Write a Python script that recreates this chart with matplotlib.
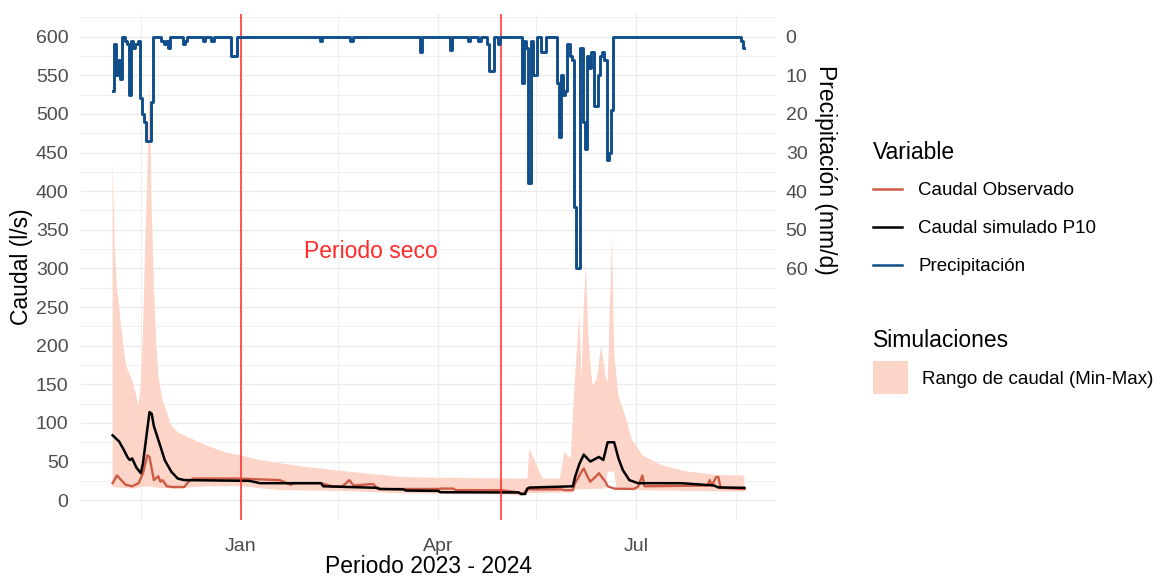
import numpy as np
import pandas as pd
import matplotlib
matplotlib.use("Agg")
import matplotlib.pyplot as plt
import matplotlib.dates as mdates
from matplotlib.lines import Line2D
from matplotlib.patches import Patch

plt.rcParams['font.family'] = ['Liberation Sans', 'DejaVu Sans']

# daily precipitation (mm/d), 2023-11-03 .. 2024-08-20
pp_nov = [14, 2, 10, 6, 11, 0, 1, 2, 15, 1, 3, 2, 1, 16, 20, 22, 27, 27, 17, 0,
          0, 0, 0, 1, 2, 1, 3, 0]
pp_dec = [0, 0, 0, 0, 0, 2, 1, 0, 0, 0, 0, 0, 0, 0, 1, 0, 0, 0, 1, 0, 0, 0, 0, 0,
          0, 0, 0, 5, 5, 5, 0]
pp_jan = [0] * 31
pp_feb = [0, 0, 0, 0, 0, 0, 1, 0, 0, 0, 0, 0, 0, 0, 0, 0, 0, 0, 0, 0, 1, 0, 0, 0,
          0, 0, 0, 0, 0]
pp_mar = [0, 0, 0, 0, 0, 0, 0, 0, 0, 0, 0, 0, 0, 0, 0, 0, 0, 0, 0, 0, 0, 0, 0, 4,
          0, 0, 0, 0, 0, 0, 0]
pp_apr = [0, 0, 0, 0, 0, 0, 3.5, 0, 0, 0, 0, 0, 0, 0, 1, 0, 0, 0, 0, 1, 0, 0, 0, 2,
          9, 9, 0, 0, 2, 0]
pp_may = [0, 0, 0, 0, 0, 0, 0, 0, 0, 12, 1, 3, 38, 1, 10, 10, 0, 0, 4, 4, 0, 0, 0, 0,
          0, 12, 26, 10, 15, 14, 2]
pp_jun = [5, 6, 44, 60, 60, 3, 22, 29, 5, 8, 4, 18, 18, 10, 5, 4, 6, 32, 30, 19,
          0, 0, 0, 0, 0, 0, 0, 0, 0, 0]
pp_jul = [0] * 31
pp_aug = [0, 0, 0, 0, 0, 0, 0, 0, 0, 0, 0, 0, 0, 0, 0, 0, 0, 0, 1, 3]

# observed flow (l/s)
obs_dates = ["2023-11-03", "2023-11-05", "2023-11-07", "2023-11-09", "2023-11-12",
             "2023-11-15", "2023-11-17", "2023-11-19", "2023-11-20", "2023-11-21",
             "2023-11-22", "2023-11-24", "2023-11-25", "2023-11-26", "2023-11-28",
             "2023-12-01", "2023-12-06", "2023-12-08", "2023-12-10", "2023-12-31",
             "2024-01-19", "2024-01-24", "2024-01-26", "2024-02-07", "2024-02-12",
             "2024-02-17", "2024-02-20", "2024-02-22", "2024-03-02", "2024-03-04",
             "2024-04-01", "2024-04-02", "2024-04-08", "2024-04-09", "2024-04-30",
             "2024-05-08", "2024-05-10", "2024-05-12", "2024-05-28", "2024-05-29",
             "2024-06-02", "2024-06-03", "2024-06-06", "2024-06-07", "2024-06-09",
             "2024-06-10", "2024-06-12", "2024-06-14", "2024-06-15", "2024-06-17",
             "2024-06-18", "2024-06-21", "2024-06-30", "2024-07-02", "2024-07-04",
             "2024-07-05", "2024-08-03", "2024-08-04", "2024-08-05", "2024-08-07",
             "2024-08-08", "2024-08-09", "2024-08-20"]
obs_vals = [22, 32, 26, 20, 18, 22, 35, 58, 56, 41, 26, 31, 24, 26, 18, 17, 17, 24,
            28, 28, 26, 20, 22, 22, 18, 18, 26, 19, 21, 14.5, 14.5, 15, 15, 13, 13,
            10, 8, 14, 14, 13, 13, 22, 37, 41, 29, 24, 29, 35, 31, 24, 18, 15, 14.5,
            17.5, 32, 18, 19, 26, 19, 30, 30, 16, 14.5]

# simulated flow P10 (l/s)
sim_dates = ["2023-11-03", "2023-11-06", "2023-11-08", "2023-11-10", "2023-11-11",
             "2023-11-12", "2023-11-14", "2023-11-16", "2023-11-17", "2023-11-19",
             "2023-11-20", "2023-11-21", "2023-11-22", "2023-11-25", "2023-11-27",
             "2023-11-30", "2023-12-03", "2023-12-06", "2024-01-05", "2024-01-10",
             "2024-02-07", "2024-02-08", "2024-03-04", "2024-03-05", "2024-03-16",
             "2024-03-17", "2024-04-01", "2024-04-02", "2024-05-08", "2024-05-09",
             "2024-05-11", "2024-05-12", "2024-05-13", "2024-06-02", "2024-06-03",
             "2024-06-05", "2024-06-07", "2024-06-10", "2024-06-14", "2024-06-16",
             "2024-06-18", "2024-06-21", "2024-06-23", "2024-06-25", "2024-06-28",
             "2024-07-02", "2024-07-22", "2024-08-06", "2024-08-08", "2024-08-20"]
sim_vals = [84, 76, 66, 55, 52, 54, 42, 35, 48, 92, 114, 112, 96, 70, 52, 37, 28,
            26, 25, 22, 22, 18, 16, 14.5, 14, 12.5, 12, 10.3, 10, 8, 8, 15, 16.3, 18,
            30, 47, 59, 50, 56, 52, 75, 75, 54, 39, 26, 22, 22, 19, 16.5, 16]

# simulation range (min-max, l/s)
max_dates = ["2023-11-03", "2023-11-04", "2023-11-05", "2023-11-06", "2023-11-07",
             "2023-11-08", "2023-11-09", "2023-11-10", "2023-11-11", "2023-11-12",
             "2023-11-13", "2023-11-14", "2023-11-15", "2023-11-16", "2023-11-17",
             "2023-11-18", "2023-11-19", "2023-11-20", "2023-11-21", "2023-11-22",
             "2023-11-23", "2023-11-24", "2023-11-25", "2023-11-26", "2023-11-27",
             "2023-11-30", "2023-12-03", "2023-12-09", "2023-12-16", "2023-12-25",
             "2024-01-01", "2024-01-10", "2024-01-19", "2024-01-28", "2024-02-07",
             "2024-02-16", "2024-03-01", "2024-03-15", "2024-04-01", "2024-05-12",
             "2024-05-13", "2024-05-15", "2024-05-19", "2024-05-27", "2024-05-29",
             "2024-06-01", "2024-06-03", "2024-06-04", "2024-06-05", "2024-06-06",
             "2024-06-07", "2024-06-08", "2024-06-09", "2024-06-10", "2024-06-11",
             "2024-06-13", "2024-06-15", "2024-06-17", "2024-06-18", "2024-06-20",
             "2024-06-21", "2024-06-23", "2024-06-26", "2024-06-29", "2024-07-04",
             "2024-07-13", "2024-07-25", "2024-08-08", "2024-08-20"]
max_vals = [437, 330, 275, 250, 225, 200, 178, 168, 162, 155, 145, 135, 122, 150,
            220, 330, 420, 545, 380, 280, 210, 165, 145, 130, 122, 97, 88, 80, 71, 62,
            58, 52, 48, 44, 41, 38, 34, 30, 29, 28, 67, 54, 28, 28, 62, 54, 161, 200,
            242, 157, 251, 307, 221, 180, 148, 157, 200, 161, 152, 341, 191, 135, 110,
            80, 58, 45, 37, 32.5, 32]
min_dates = ["2023-11-03", "2023-11-12", "2023-11-19", "2023-11-24", "2023-12-01",
             "2023-12-15", "2024-01-01", "2024-01-19", "2024-02-15", "2024-03-15",
             "2024-04-01", "2024-04-30", "2024-05-09", "2024-05-12", "2024-06-02",
             "2024-06-03", "2024-06-17", "2024-06-18", "2024-06-21", "2024-06-22",
             "2024-07-01", "2024-08-20"]
min_vals = [17, 15, 18, 16, 15, 18, 18, 13, 12, 9, 8.5, 7.5, 6, 9, 10, 14, 15, 37, 37,
            17, 13, 11]

dry_limits = ["2024-01-01", "2024-04-30"]

c_obs = '#CD5B45'
c_sim = 'black'
c_pp = '#104E8B'
c_fill = '#FCD5C8'
c_red = '#FF2A2A'

pp_days = pd.date_range("2023-11-03", "2024-08-20", freq="D")
precip = np.concatenate([pp_nov, pp_dec, pp_jan, pp_feb, pp_mar, pp_apr, pp_may,
                         pp_jun, pp_jul, pp_aug])

fig = plt.figure(figsize=(11.56, 5.8), dpi=100)
ax = fig.add_axes([81 / 1156, 60.5 / 580, 695 / 1156, 506 / 580])

xmx = mdates.date2num(pd.to_datetime(max_dates))
xmn = mdates.date2num(pd.to_datetime(min_dates))
ax.fill(np.concatenate([xmx, xmn[::-1]]),
        np.concatenate([max_vals, min_vals[::-1]]),
        color=c_fill, lw=0, zorder=2)
ax.plot(pd.to_datetime(obs_dates), obs_vals, color=c_obs, lw=1.7, zorder=3)
ax.plot(pd.to_datetime(sim_dates), sim_vals, color=c_sim, lw=1.8, zorder=4)
for d in dry_limits:
    ax.axvline(pd.Timestamp(d), color=c_red, lw=1.1, zorder=5)
ax.text(pd.Timestamp("2024-03-01"), 322, "Periodo seco", color=c_red,
        fontsize=16.5, ha='center', va='center', zorder=6)

t0 = mdates.date2num(pd.Timestamp("2023-11-03"))
t1 = mdates.date2num(pd.Timestamp("2024-08-20"))
pad = (t1 - t0) * 0.05
ax.set_xlim(t0 - pad, t1 + pad)
ax.set_ylim(-25, 630)

ax.xaxis.set_major_locator(mdates.MonthLocator(bymonth=[1, 4, 7]))
ax.xaxis.set_major_formatter(mdates.DateFormatter('%b'))
ax.xaxis.set_minor_locator(matplotlib.ticker.FixedLocator(
    mdates.date2num(pd.to_datetime(["2023-11-16", "2024-02-15", "2024-05-16",
                                    "2024-08-16"]))))
ax.set_yticks(np.arange(0, 601, 50))
ax.set_yticks(np.arange(25, 626, 50), minor=True)

ax.grid(True, which='major', color='#EBEBEB', lw=1.0, zorder=0)
ax.grid(True, which='minor', color='#EFEFEF', lw=0.7, zorder=0)
ax.set_axisbelow(True)
for s in ax.spines.values():
    s.set_visible(False)
ax.tick_params(which='both', length=0, labelsize=14, labelcolor='#4D4D4D')
ax.tick_params(axis='y', pad=9)
ax.tick_params(axis='x', pad=13)
ax.set_xlabel("Periodo 2023 - 2024", fontsize=16.5, labelpad=0)
ax.set_ylabel("Caudal (l/s)", fontsize=16.5, labelpad=2)

# precipitation on a reversed secondary axis: caudal = 600 - 5 * P
ax2 = ax.twinx()
ax2.set_ylim((600 + 25) / 5, (600 - 630) / 5)
ax2.plot(pp_days, precip, color=c_pp, lw=2.1, drawstyle='steps-mid', zorder=6)
ax2.set_yticks(np.arange(0, 61, 10))
for s in ax2.spines.values():
    s.set_visible(False)
ax2.tick_params(length=0, labelsize=14, labelcolor='#4D4D4D', pad=7)
ax2.set_ylabel("Precipitación (mm/d)", fontsize=16.5, rotation=-90, va='bottom')
ax2.yaxis.set_label_coords(1.054, 0.69)

h1 = [Line2D([], [], color=c_obs, lw=1.8),
      Line2D([], [], color=c_sim, lw=1.8),
      Line2D([], [], color=c_pp, lw=1.8)]
leg1 = fig.legend(h1, ["Caudal Observado", "Caudal simulado P10", "Precipitación"],
                  title="Variable", loc='upper left',
                  bbox_to_anchor=(873 / 1156, 1 - 141 / 580), frameon=False,
                  fontsize=13.5, title_fontsize=16.5, alignment='left',
                  handlelength=1.55, handletextpad=0.85, labelspacing=1.12,
                  borderpad=0, borderaxespad=0)
leg1._legend_box.sep = 13
leg2 = fig.legend([Patch(facecolor=c_fill, edgecolor='none')],
                  ["Rango de caudal (Min-Max)"], title="Simulaciones",
                  loc='upper left', bbox_to_anchor=(873 / 1156, 1 - 329 / 580),
                  frameon=False, fontsize=13.5, title_fontsize=16.5,
                  alignment='left', handlelength=1.85, handleheight=2.3,
                  handletextpad=0.75, borderpad=0, borderaxespad=0)

fig.savefig("out.png", dpi=100)
